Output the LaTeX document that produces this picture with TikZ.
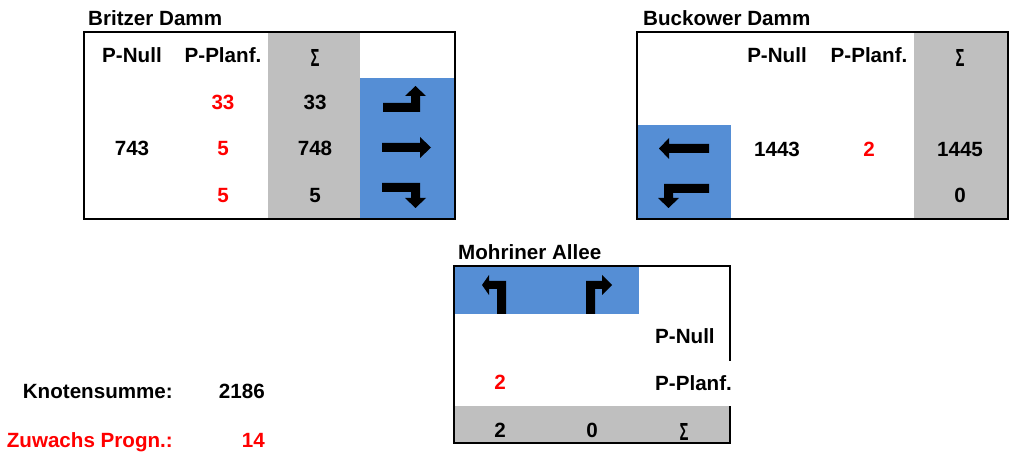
\documentclass[tikz,border=0pt]{standalone}
\usepackage{fontspec}
\usepackage{graphicx}
\setmainfont{Liberation Sans}
\definecolor{laneblue}{RGB}{85,142,213}
\definecolor{sumgray}{RGB}{191,191,191}
\definecolor{plred}{RGB}{255,0,0}
\newcommand{\sumsign}{\scalebox{0.72}[1.2]{\bfseries\char"03A3}}
\tikzset{
  txt/.style={inner sep=0pt, anchor=base, font=\fontsize{20.6bp}{22bp}\selectfont\bfseries},
  txtl/.style={txt, anchor=base west},
  txtr/.style={txt, anchor=base east},
  red/.style={text=plred},
  sig/.style={inner sep=0pt, anchor=base, font=\fontsize{20.6bp}{22bp}\selectfont},
  frame/.style={draw=black, line width=2bp},
  glyph/.style={fill=black},
}
\begin{document}
\begin{tikzpicture}[x=1bp,y=-1bp]
\useasboundingbox (0,0) rectangle (1012,455);
% ---------------- Britzer Damm ----------------
\fill[sumgray] (268,32) rectangle (360,219);
\fill[laneblue] (360,78) rectangle (455,219);
\draw[frame] (83.5,32) rectangle (455,219);
\node[txtl] (bdT) at (88,26) {Britzer Damm};
\node[txt] (bdH1) at (132,63) {P-Null};
\node[txt] (bdH2) at (223,63) {P-Planf.};
\node[sig] (bdH3) at (315,66.5) {\sumsign};
\node[txt,red] (bdP1) at (223,110) {33};
\node[txt] (bdS1) at (315,110) {33};
\node[txt] (bdN2) at (132,156) {743};
\node[txt,red] (bdP2) at (223,156) {5};
\node[txt] (bdS2) at (315,156) {748};
\node[txt,red] (bdP3) at (223,203) {5};
\node[txt] (bdS3) at (315,203) {5};
\fill[glyph] (383,103) -- (411,103) -- (411,96) -- (405,96) -- (415.5,86) -- (426,96) -- (420,96) -- (420,112) -- (383,112) -- cycle;
\fill[glyph] (382,143) -- (420,143) -- (420,137) -- (431,147.5) -- (420,158) -- (420,152) -- (382,152) -- cycle;
\fill[glyph] (382,183) -- (420,183) -- (420,198) -- (426,198) -- (415.5,208) -- (405,198) -- (411,198) -- (411,192) -- (382,192) -- cycle;
% ---------------- Buckower Damm ----------------
\fill[sumgray] (914,32) rectangle (1008,219);
\fill[laneblue] (637,125) rectangle (731,219);
\draw[frame] (637,32) rectangle (1008,219);
\node[txtl] (kdT) at (643,26) {Buckower Damm};
\node[txt] (kdH1) at (777,63) {P-Null};
\node[txt] (kdH2) at (869,63) {P-Planf.};
\node[sig] (kdH3) at (960,66.5) {\sumsign};
\node[txt] (kdN2) at (777,157) {1443};
\node[txt,red] (kdP2) at (869,157) {2};
\node[txt] (kdS2) at (960,157) {1445};
\node[txt] (kdS3) at (960,203) {0};
\fill[glyph] (709,144) -- (669,144) -- (669,138) -- (659,148.5) -- (669,159) -- (669,153) -- (709,153) -- cycle;
\fill[glyph] (709,184) -- (664,184) -- (664,198) -- (658,198) -- (668.5,208) -- (679,198) -- (673,198) -- (673,193) -- (709,193) -- cycle;
% ---------------- Mohriner Allee ----------------
\fill[laneblue] (454,266) rectangle (639,314);
\fill[sumgray] (454,406) rectangle (730,443);
\draw[frame] (730,361) -- (730,266) -- (454,266) -- (454,443) -- (730,443) -- (730,406);
\node[txtl] (maT) at (458,260) {Mohriner Allee};
\node[txtl] (maL1) at (655,344) {P-Null};
\node[txtl] (maL2) at (655,391) {P-Planf.};
\node[txt,red] (maP1) at (500,390) {2};
\node[txt] (maS1) at (500,437) {2};
\node[txt] (maS2) at (592,437) {0};
\node[sig] (maL3) at (684,440) {\sumsign};
\fill[glyph] (506,314) -- (506,281) -- (489,281) -- (489,275) -- (482,285) -- (489,295) -- (489,289) -- (497,289) -- (497,314) -- cycle;
\fill[glyph] (586,314) -- (586,281) -- (602,281) -- (602,275) -- (612,285) -- (602,295) -- (602,289) -- (595,289) -- (595,314) -- cycle;
% ---------------- Summary ----------------
\node[txtr] (ksL) at (173,399) {Knotensumme:};
\node[txtr] (ksV) at (265,399) {2186};
\node[txtr,red] (zpL) at (173,447) {Zuwachs Progn.:};
\node[txtr,red] (zpV) at (265,447) {14};
\end{tikzpicture}
\end{document}
